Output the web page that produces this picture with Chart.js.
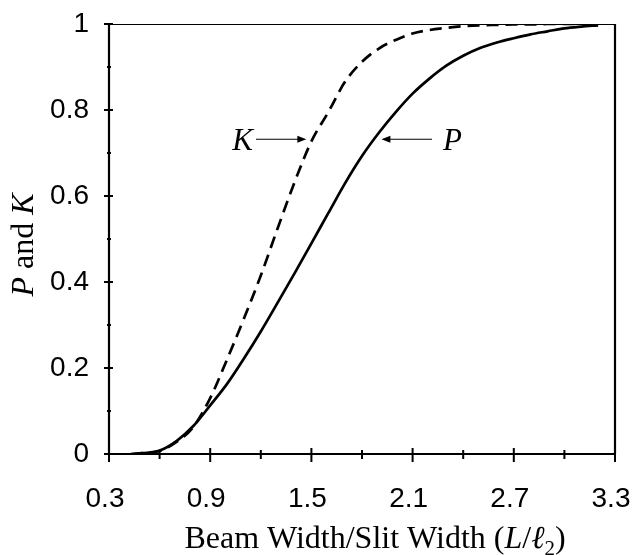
<!DOCTYPE html>
<html>
<head>
<meta charset="utf-8">
<script src="https://cdn.jsdelivr.net/npm/chart.js@4.4.1/dist/chart.umd.min.js"></script>
<style>
  html, body { margin: 0; padding: 0; background: #fff; }
  #wrap { width: 634px; height: 555px; }
</style>
</head>
<body>
<div id="wrap"><canvas id="chart" width="634" height="555"></canvas></div>
<script>
// Data
const xValues = [0.43, 0.5, 0.6, 0.7, 0.8, 0.9, 1.0, 1.1, 1.2, 1.3, 1.4, 1.5, 1.6, 1.7, 1.8, 1.9,
                 2.0, 2.1, 2.2, 2.3, 2.4, 2.5, 2.6, 2.7, 2.8, 2.9, 3.0, 3.1, 3.2];
const pValues = [0, 0.002, 0.008, 0.03, 0.065, 0.113, 0.163, 0.222, 0.285, 0.352, 0.42, 0.49, 0.56, 0.63,
                 0.693, 0.747, 0.795, 0.838, 0.873, 0.903, 0.926, 0.944, 0.957, 0.967, 0.976, 0.983, 0.99, 0.994, 0.997];
const kValues = [0, 0.002, 0.007, 0.028, 0.063, 0.13, 0.22, 0.315, 0.415, 0.525, 0.632, 0.727, 0.795, 0.866,
                 0.912, 0.943, 0.963, 0.978, 0.986, 0.991, 0.995, 0.997, 0.998, 0.999, 0.999, 1, 1, 1, 1];
const xMajorTicks = [0.3, 0.9, 1.5, 2.1, 2.7, 3.3];
const xMinorTicks = [0.6, 1.2, 1.8, 2.4, 3.0];
const yMajorTicks = [0, 0.2, 0.4, 0.6, 0.8, 1];
const yMinorTicks = [0.1, 0.3, 0.5, 0.7, 0.9];

const SANS = '"Liberation Sans", Arial, sans-serif';
const SERIF = '"Liberation Serif", "Times New Roman", serif';

const toPoints = ys => xValues.map((x, i) => ({ x: x, y: ys[i] }));

// keep label overflow from shrinking the plot area
const noPad = s => { s.paddingTop = 0; s.paddingBottom = 0; s.paddingLeft = 0; s.paddingRight = 0; };

// draws frame, crossing ticks, axis titles and the K / P pointers
const decorations = {
    id: 'decorations',
    afterDraw(chart) {
        const { ctx, chartArea: a, scales } = chart;
        const xs = scales.x, ys = scales.y;
        ctx.save();
        ctx.strokeStyle = '#000';
        ctx.fillStyle = '#000';

        // frame
        ctx.lineWidth = 1.2;
        ctx.beginPath();
        ctx.moveTo(a.left, a.top + 0.5);
        ctx.lineTo(a.right, a.top + 0.5);
        ctx.stroke();
        ctx.lineWidth = 2.2;
        ctx.beginPath();
        ctx.moveTo(a.left, a.top);
        ctx.lineTo(a.left, a.bottom);
        ctx.lineTo(a.right, a.bottom);
        ctx.moveTo(a.right, a.top);
        ctx.lineTo(a.right, a.bottom);
        ctx.stroke();

        // ticks
        ctx.lineWidth = 2;
        ctx.beginPath();
        xMajorTicks.forEach(v => {
            const px = xs.getPixelForValue(v);
            ctx.moveTo(px, a.bottom - 6);
            ctx.lineTo(px, a.bottom + 8);
        });
        xMinorTicks.forEach(v => {
            const px = xs.getPixelForValue(v);
            ctx.moveTo(px, a.bottom - 4);
            ctx.lineTo(px, a.bottom + 5);
        });
        yMajorTicks.forEach(v => {
            const py = ys.getPixelForValue(v);
            ctx.moveTo(a.left - 5, py);
            ctx.lineTo(a.left + 4, py);
        });
        yMinorTicks.forEach(v => {
            const py = ys.getPixelForValue(v);
            ctx.moveTo(a.left - 2, py);
            ctx.lineTo(a.left + 2, py);
        });
        ctx.stroke();

        // x axis title with italic parts and subscript
        const parts = [
            { t: 'Beam Width/Slit Width (', f: '32px ' + SERIF },
            { t: 'L', f: 'italic 32px ' + SERIF },
            { t: '/', f: '32px ' + SERIF },
            { t: '\u2113', f: 'italic 32px ' + SERIF },
            { t: '2', f: '21px ' + SERIF, dy: 7 },
            { t: ')', f: '32px ' + SERIF }
        ];
        let total = 0;
        parts.forEach(p => { ctx.font = p.f; p.w = ctx.measureText(p.t).width; total += p.w; });
        let cx = 375 - total / 2;
        ctx.textBaseline = 'alphabetic';
        ctx.textAlign = 'left';
        parts.forEach(p => {
            ctx.font = p.f;
            ctx.fillText(p.t, cx, 548 + (p.dy || 0));
            cx += p.w;
        });

        // y axis title, rotated
        const yparts = [
            { t: 'P', f: 'italic 32px ' + SERIF },
            { t: ' and ', f: '32px ' + SERIF },
            { t: 'K', f: 'italic 32px ' + SERIF }
        ];
        let ytotal = 0;
        yparts.forEach(p => { ctx.font = p.f; p.w = ctx.measureText(p.t).width; ytotal += p.w; });
        ctx.save();
        ctx.translate(33, 245);
        ctx.rotate(-Math.PI / 2);
        let cy = -ytotal / 2;
        yparts.forEach(p => {
            ctx.font = p.f;
            ctx.fillText(p.t, cy, 0);
            cy += p.w;
        });
        ctx.restore();

        // K and P labels with arrows
        const arrowY = ys.getPixelForValue(0.732);
        ctx.font = 'italic 31px ' + SERIF;
        ctx.textAlign = 'right';
        ctx.fillText('K', 253, arrowY + 11);
        ctx.textAlign = 'left';
        ctx.fillText('P', 443, arrowY + 11);

        ctx.lineWidth = 1;
        const kTip = xs.getPixelForValue(1.47);
        const pTip = xs.getPixelForValue(1.915);
        ctx.beginPath();
        ctx.moveTo(256, arrowY);
        ctx.lineTo(kTip - 6, arrowY);
        ctx.moveTo(pTip + 6, arrowY);
        ctx.lineTo(432, arrowY);
        ctx.stroke();
        ctx.beginPath();
        ctx.moveTo(kTip, arrowY);
        ctx.lineTo(kTip - 9, arrowY - 3.5);
        ctx.lineTo(kTip - 9, arrowY + 3.5);
        ctx.closePath();
        ctx.moveTo(pTip, arrowY);
        ctx.lineTo(pTip + 9, arrowY - 3.5);
        ctx.lineTo(pTip + 9, arrowY + 3.5);
        ctx.closePath();
        ctx.fill();

        ctx.restore();
    }
};

new Chart(document.getElementById('chart'), {
    type: 'scatter',
    data: {
        datasets: [
            {
                label: 'P',
                data: toPoints(pValues),
                showLine: true,
                borderColor: '#000',
                borderWidth: 2.7,
                pointRadius: 0,
                cubicInterpolationMode: 'monotone'
            },
            {
                label: 'K',
                data: toPoints(kValues),
                showLine: true,
                borderColor: '#000',
                borderWidth: 2.7,
                borderDash: [12, 7],
                pointRadius: 0,
                cubicInterpolationMode: 'monotone'
            }
        ]
    },
    options: {
        responsive: false,
        animation: false,
        layout: { padding: { top: 24, right: 19, left: 0, bottom: 0 } },
        plugins: {
            legend: { display: false },
            tooltip: { enabled: false }
        },
        scales: {
            x: {
                type: 'linear',
                min: 0.3,
                max: 3.3,
                afterFit: s => { s.height = 101; noPad(s); },
                afterBuildTicks: s => { s.ticks = xMajorTicks.map(v => ({ value: v })); },
                grid: { display: false, drawTicks: false },
                border: { display: false },
                ticks: {
                    autoSkip: false,
                    maxRotation: 0,
                    padding: 28,
                    labelOffset: -4,
                    color: '#000',
                    font: { family: SANS, size: 28 },
                    callback: v => v.toFixed(1)
                }
            },
            y: {
                type: 'linear',
                min: 0,
                max: 1,
                afterFit: s => { s.width = 109; noPad(s); },
                afterBuildTicks: s => { s.ticks = yMajorTicks.map(v => ({ value: v })); },
                grid: { display: false, drawTicks: false },
                border: { display: false },
                ticks: {
                    autoSkip: false,
                    padding: 20,
                    color: '#000',
                    font: { family: SANS, size: 28 },
                    callback: v => (v === 0 || v === 1) ? String(v) : v.toFixed(1)
                }
            }
        }
    },
    plugins: [decorations]
});
</script>
</body>
</html>
